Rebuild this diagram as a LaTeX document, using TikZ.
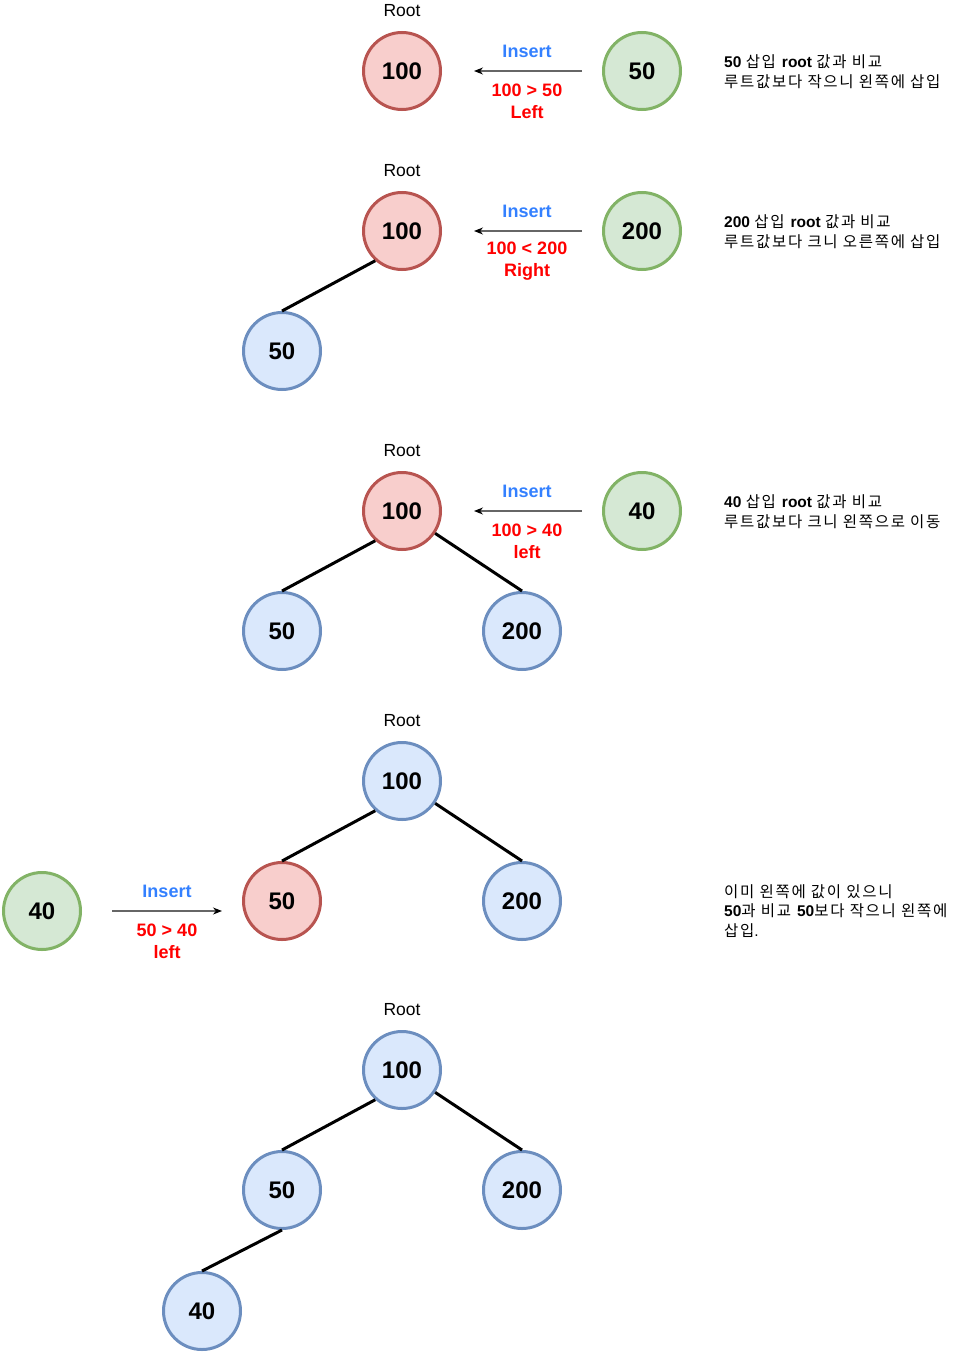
\documentclass[tikz,border=0pt]{standalone}
\usepackage{fontspec}
\setmainfont{Liberation Sans}
\newfontfamily\kr[LetterSpace=11]{Noto Sans CJK KR}
\usetikzlibrary{arrows.meta}
\definecolor{redF}{HTML}{F8CECC}
\definecolor{redS}{HTML}{B85450}
\definecolor{grnF}{HTML}{D5E8D4}
\definecolor{grnS}{HTML}{82B366}
\definecolor{bluF}{HTML}{DAE8FC}
\definecolor{bluS}{HTML}{6C8EBF}
\definecolor{insblue}{HTML}{3380FF}
\definecolor{cmpred}{HTML}{FF0000}
\begin{document}
\begin{tikzpicture}[x=1pt,y=-1pt,
  nd/.style={circle,minimum size=77pt,inner sep=0pt,line width=3pt,font=\fontsize{24}{24}\selectfont\bfseries},
  rednd/.style={nd,draw=redS,fill=redF},
  grnnd/.style={nd,draw=grnS,fill=grnF},
  blund/.style={nd,draw=bluS,fill=bluF},
  treeedge/.style={line width=3pt,black},
  rootlbl/.style={font=\fontsize{17.5}{17.5}\selectfont},
  ins/.style={font=\fontsize{18}{18}\selectfont\bfseries,text=insblue},
  cmp/.style={font=\fontsize{18}{22}\selectfont\bfseries,text=cmpred,align=center},
  arr/.style={draw=black!60,line width=1.2pt,-{Stealth[length=9pt,width=7pt,color=black]}},
  note/.style={anchor=west,align=left,inner xsep=0pt,font=\fontsize{15.5}{19.5}\selectfont}]
\useasboundingbox (0,0) rectangle (963,1354);

% Row 1
\node[rednd] (a1) at (402,71) {100};
\node[rootlbl] (ra1) at (402,11) {Root};
\node[grnnd] (g1) at (642,71) {50};
\coordinate (s1) at (582,71);
\coordinate (e1) at (474,71);
\draw[arr] (s1) -- (e1);
\node[ins] (i1) at (527,51) {Insert};
\node[cmp] (c1) at (527,101) {100 > 50\\Left};
\node[note] (n1) at (724,71.5) {\textbf{50} {\kr 삽입} \textbf{root} {\kr 값과 비교}\\{\kr 루트값보다 작으니 왼쪽에 삽입}};

% Row 2
\node[rednd] (a2) at (402,231) {100};
\node[rootlbl] (ra2) at (402,171) {Root};
\node[grnnd] (g2) at (642,231) {200};
\node[blund] (b2) at (282,351) {50};
\draw[treeedge] (a2.228) -- (b2.north);
\coordinate (s2) at (582,231);
\coordinate (e2) at (474,231);
\draw[arr] (s2) -- (e2);
\node[ins] (i2) at (527,211) {Insert};
\node[cmp] (c2) at (527,261) {100 < 200\\Right};
\node[note] (n2) at (724,231.5) {\textbf{200} {\kr 삽입} \textbf{root} {\kr 값과 비교}\\{\kr 루트값보다 크니 오른쪽에 삽입}};

% Row 3
\node[rednd] (a3) at (402,511) {100};
\node[rootlbl] (ra3) at (402,451) {Root};
\node[grnnd] (g3) at (642,511) {40};
\node[blund] (b3) at (282,631) {50};
\node[blund] (c3n) at (522,631) {200};
\draw[treeedge] (a3.228) -- (b3.north);
\draw[treeedge] (a3.-34) -- (c3n.north);
\coordinate (s3) at (582,511);
\coordinate (e3) at (474,511);
\draw[arr] (s3) -- (e3);
\node[ins] (i3) at (527,491) {Insert};
\node[cmp] (c3) at (527,541) {100 > 40\\left};
\node[note] (n3) at (724,511.5) {\textbf{40} {\kr 삽입} \textbf{root} {\kr 값과 비교}\\{\kr 루트값보다 크니 왼쪽으로 이동}};

% Row 4
\node[blund] (a4) at (402,781) {100};
\node[rootlbl] (ra4) at (402,721) {Root};
\node[rednd] (b4) at (282,901) {50};
\node[blund] (c4n) at (522,901) {200};
\node[grnnd] (g4) at (42,911) {40};
\draw[treeedge] (a4.228) -- (b4.north);
\draw[treeedge] (a4.-34) -- (c4n.north);
\coordinate (s4) at (112,911);
\coordinate (e4) at (222,911);
\draw[arr] (s4) -- (e4);
\node[ins] (i4) at (167,891) {Insert};
\node[cmp] (c4) at (167,941) {50 > 40\\left};
\node[note] (n4) at (724,911) {{\kr 이미 왼쪽에 값이 있으니}\\\textbf{50}{\kr 과 비교} \textbf{50}{\kr 보다 작으니 왼쪽에}\\{\kr 삽입}.};

% Row 5
\node[blund] (a5) at (402,1070) {100};
\node[rootlbl] (ra5) at (402,1010) {Root};
\node[blund] (b5) at (282,1190) {50};
\node[blund] (c5n) at (522,1190) {200};
\node[blund] (d5) at (202,1311) {40};
\draw[treeedge] (a5.228) -- (b5.north);
\draw[treeedge] (a5.-34) -- (c5n.north);
\draw[treeedge] (b5.south) -- (d5.north);
\end{tikzpicture}
\end{document}
